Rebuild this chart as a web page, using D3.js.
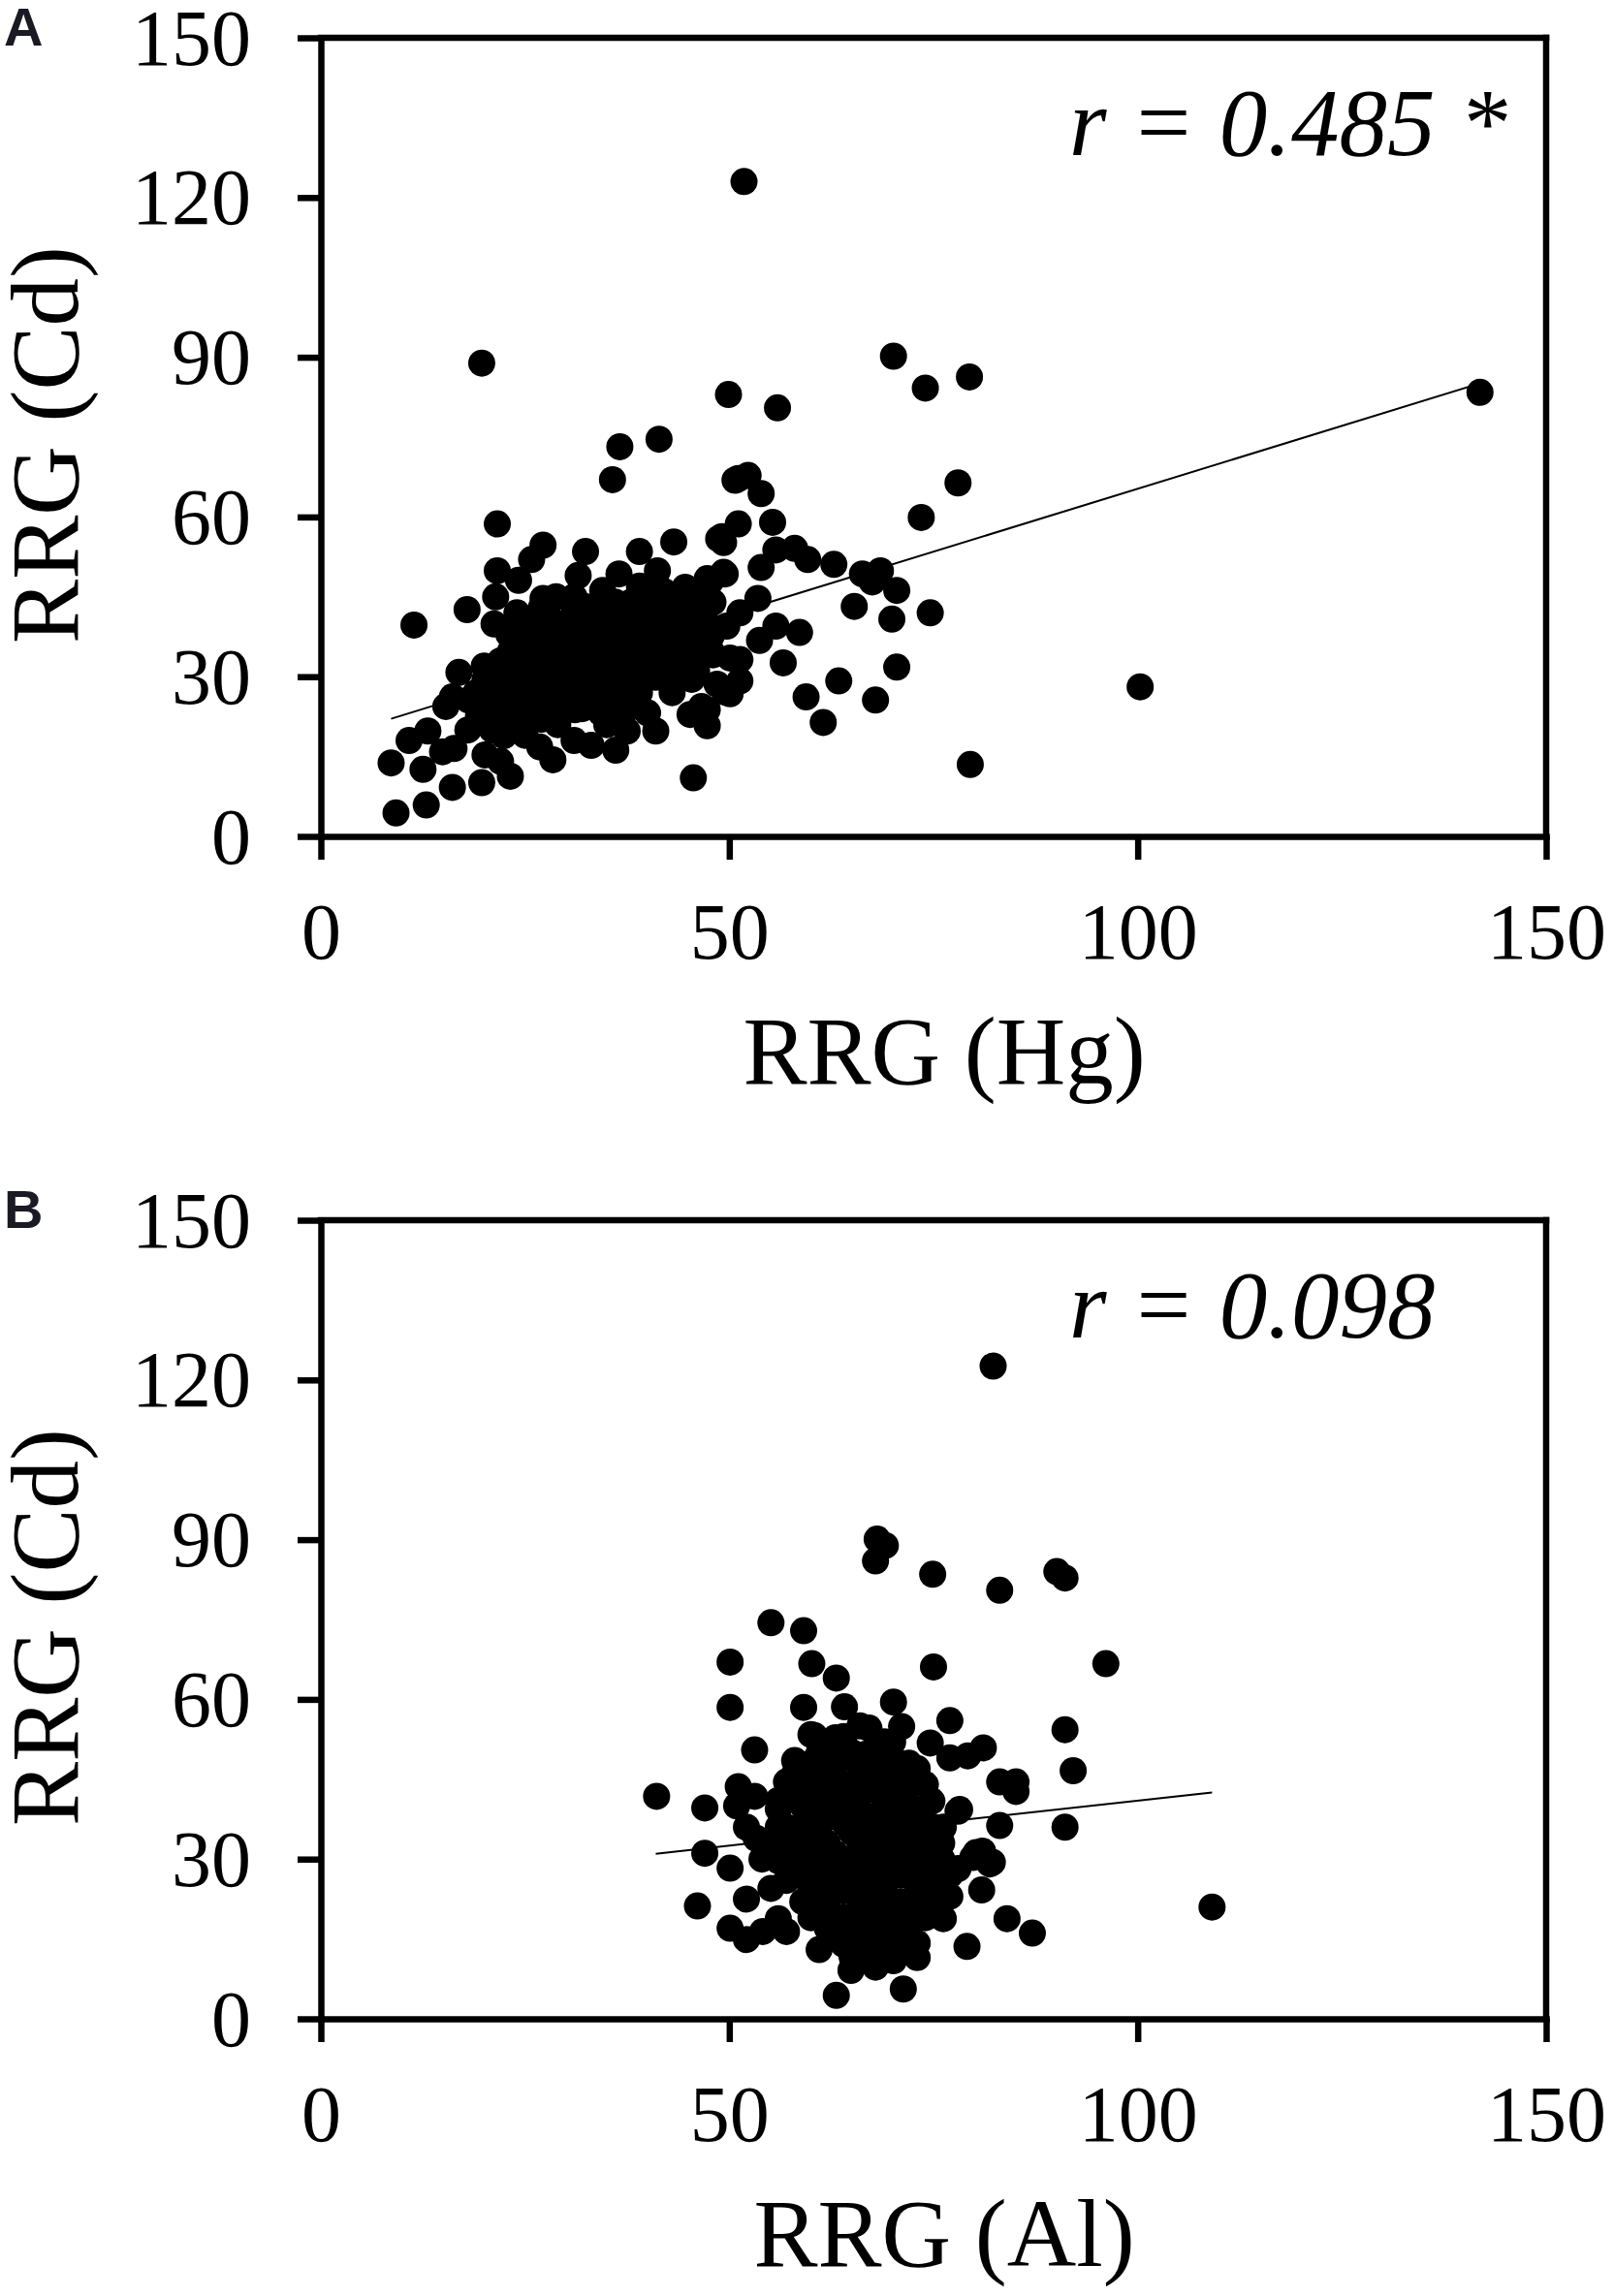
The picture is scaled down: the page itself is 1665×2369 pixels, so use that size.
<!DOCTYPE html>
<html>
<head>
<meta charset="utf-8">
<script src="https://cdn.jsdelivr.net/npm/d3@7"></script>
<style>
  body { margin: 0; background: #fff; }
  svg { display: block; }
</style>
</head>
<body>
<div id="chart"></div>
<script>
// ticks shared by both panels
const xTicks = [0, 50, 100, 150];
const yTicks = [0, 30, 60, 90, 120, 150];

// panel A: RRG (Hg) vs RRG (Cd)
const hgCd = [
  [36.6,73.2],[41.4,74.6],[35.7,67.0],[50.7,66.9],[21.6,58.7],[27.2,54.7],[25.8,52.0],[32.4,53.5],
  [39.0,53.5],[43.2,55.3],[21.6,49.9],[31.5,49.0],[24.2,48.1],[21.4,45.0],[17.9,42.6],[11.4,39.7],
  [27.2,44.7],[28.8,45.0],[21.2,39.9],[34.5,46.2],[36.5,49.3],[41.2,49.9],[44.6,46.5],[47.3,48.4],
  [49.3,49.6],[49.1,56.3],[49.3,55.2],[32.3,43.2],[35.1,41.4],[39.8,43.2],[41.4,40.1],[45.0,40.1],
  [46.6,37.1],[47.8,34.7],[49.7,39.5],[50.1,33.5],[23.2,34.7],[24.0,37.7],[37.3,35.9],[38.2,34.7],
  [41.4,33.5],[41.0,29.9],[16.9,30.8],[20.1,29.5],[16.1,26.2],[15.3,24.4],[13.1,19.8],[10.8,18.0],
  [8.6,13.8],[12.5,12.6],[14.9,15.9],[16.3,16.5],[16.1,9.2],[19.7,10.1],[23.2,11.3],[9.2,4.4],
  [12.9,5.9],[20.1,15.3],[22.0,14.1],[22.4,18.9],[19.3,22.6],[21.2,23.8],[18.1,25.6],[26.8,16.8],
  [28.4,14.4],[33.1,17.1],[36.1,16.2],[37.5,19.8],[41.0,19.8],[40.0,23.2],[45.6,11.0],[45.2,22.9],
  [47.3,20.8],[45.4,29.5],[48.5,28.6],[50.1,26.8],[46.6,24.4],[28.8,23.8],[31.1,23.8],[34.3,23.2],
  [36.3,25.6],[24.0,21.4],
  [70.1,90.2],[74.0,84.2],[79.4,86.3],[49.9,83.0],[55.9,80.5],[78.0,66.4],[73.5,59.9],[51.1,67.2],
  [52.3,67.8],[53.9,64.4],[51.1,58.7],[55.3,59.0],[55.7,53.8],[58.0,54.1],[59.6,52.0],[62.8,51.1],
  [53.9,50.5],[66.3,49.3],[68.5,49.9],[67.5,47.8],[70.5,46.2],[65.3,43.2],[69.9,40.8],[74.6,42.0],
  [70.5,31.8],[67.9,25.6],[63.4,29.2],[59.4,26.2],[61.5,21.4],[56.6,32.6],[58.6,38.3],[55.7,39.5],
  [53.5,44.7],[49.5,49.3],[47.8,48.1],[45.4,43.2],[51.3,42.0],[44.6,39.5],[47.8,37.7],[53.7,36.8],
  [46.6,35.3],[48.0,34.1],[51.3,33.2],[51.3,29.2],[49.5,27.1],[47.3,23.8],[79.5,13.5],[48.7,55.9],
  [44.6,46.8],
  [51.8,123.0],[19.7,88.9],[141.9,83.4],[100.3,28.1],
  [26,30],[28,33],[30,36],[32,31],[34,28],[29,27],[31,40],[33,38],[35,34],[36,30],[27,38],[25,34],
  [24,28],[26,25],[23,31],[30,30],[33,25],[38,28],[37,40],[39,37],[28,41],[34,42],[31,45],[27,43],
  [36,44],[22,26],[20,24],[19,27],[23,22],[25,19],[21,20],[18,20],[42,38],[43,44],[44,42],[42,31],
  [40,35],[43,27],[38,44],[39,47],[32,27],[29,21],[35,21],[31,18],[27,22],[24,25],[22,33],[20,32],
  [41,45],[45,34],[46,31],[44,38],[47,41],[48,44],[46,45],[40,41],[37,37],[30,33],[33,34],[35,39],
  [28,36],[26,40],[24,42],[23,38],
  [25,27],[27,29],[29,31],[31,33],[33,29],[35,31],[37,33],[39,31],[27,33],[29,35],[31,37],[33,36],
  [35,36],[37,42],[25,37],[27,35],[29,39],[31,42],[33,40],[35,44],[26,32],[28,28],[30,26],[32,24],
  [34,26],[36,27],[38,25],[39,40],[41,42],[43,36],[42,34],[40,38],[44,33],[30,39],[32,36],[34,33],
  [36,34],[28,31],[26,35],[24,31],[22,29],[21,27],[23,27],[25,23],[27,25],[29,24],[31,28],[33,31],
  [36,39],[38,41],[40,44],[42,46],[44,44],[46,42],[45,37],[43,31],[39,27],[37,23]
];

// panel B: RRG (Al) vs RRG (Cd)
const alCd = [
  [68.1,90.1],[69.1,88.9],[67.9,86.0],[74.9,83.5],[83.1,80.5],[55.1,74.4],[59.1,72.9],[50.1,67.0],
  [60.1,66.7],[63.1,64.0],[75.0,66.1],[50.1,58.5],[59.1,58.5],[64.1,58.6],[70.1,59.5],[71.1,54.9],
  [67.1,54.6],[77.0,56.0],[74.6,51.8],[77.0,49.0],[79.2,49.4],[81.1,50.9],[53.1,50.5],[60.0,53.4],
  [63.0,52.8],[58.0,48.5],[66.7,49.7],[69.1,48.5],[57.0,44.5],[51.1,43.6],[53.1,41.8],[41.1,41.8],
  [47.0,39.6],[50.9,40.0],[56.0,39.4],[72.3,44.2],[74.8,40.9],[78.0,39.0],[83.1,44.5],[83.1,36.3],
  [52.1,36.0],[53.3,33.9],[47.0,31.1],[50.1,28.3],[56.0,29.7],[55.1,24.5],[46.1,21.2],[52.1,22.5],
  [50.1,17.0],[52.1,14.9],[54.1,16.4],[56.0,18.8],[57.0,16.4],[61.0,13.0],[65.1,11.2],[64.9,9.1],
  [67.9,9.7],[70.1,10.9],[73.0,11.5],[73.0,14.2],[63.1,4.4],[71.3,5.6],[79.1,13.6],[76.2,18.8],
  [80.9,24.2],[84.0,18.8],[82.2,29.4],[80.2,31.2],[78.0,28.2],[76.2,23.9],[62.4,17.5],[61.2,20.6],
  [60.0,24.2],[58.0,28.5],[60.4,53.2],[75.2,31.9],[76.2,36.0],[73.6,37.8],[71.4,41.8],[68.9,47.8],
  [90.1,84.0],[91.1,82.8],[96.1,66.7],[91.1,54.3],[92.1,46.6],[91.1,36.0],[85.1,44.5],[85.1,42.7],
  [78.2,39.3],[81.0,31.5],[81.9,29.1],[79.8,30.3],[87.1,16.1],[109.1,21.0],[77.0,23.0],
  [82.3,122.6],
  [58,42],[60,45],[62,47],[64,44],[66,46],[68,43],[70,45],[72,40],[60,38],[62,40],[64,37],[66,39],
  [68,36],[70,38],[72,35],[74,33],[58,34],[60,31],[62,33],[64,30],[66,32],[68,29],[70,31],[72,28],
  [74,26],[57,26],[59,22],[61,27],[63,24],[65,26],[67,23],[69,25],[71,22],[73,20],[75,22],[62,17],
  [64,19],[66,16],[68,18],[70,15],[72,17],[66,13],[68,12],[64,14],[60,19],[69,20],[71,27],[67,34],
  [63,42],[65,50],[61,50],[69,52],[59,36],[55,33],[56,36],[54,30],[77,27],[76,30],[74,44],[73,47],
  [65,41],[67,27],[63,28],[59,29],[57,31],[69,40],[71,33],[73,30],[75,36],[70,49],[66,55],[64,49],
  [59,40],[61,42],[63,45],[65,43],[67,45],[69,42],[71,44],[61,36],[63,38],[65,35],[67,37],[69,34],
  [71,36],[73,34],[59,32],[61,34],[63,31],[65,29],[67,31],[69,27],[71,29],[73,25],[58,27],[60,25],
  [62,22],[64,24],[66,21],[68,23],[70,20],[72,22],[74,19],[63,16],[65,18],[67,15],[69,17],[71,13],
  [65,12],[67,19],[69,30],[61,29],[57,36],[56,41],[58,46],[62,51],[66,48],[68,51],[72,48],[70,52],
  [64,53],[60,48],[74,30],[75,27],[76,33],[62,26],[66,28],[70,33],[64,40],[68,38],[72,38],[66,42]
];

// fitted lines, end points
const fitA = [[8.6,22.1],[141.9,85.1]];
const fitB = [[41.0,31.0],[109.1,42.5]];

const panels = [
  {tag: "A", top: 39,   data: hgCd, fit: fitA, xTitle: "RRG (Hg)", note: "r = 0.485 *"},
  {tag: "B", top: 1259, data: alCd, fit: fitB, xTitle: "RRG (Al)", note: "r = 0.098"}
];

const serif = "'Liberation Serif','Times New Roman',Times,serif";
const left = 331, right = 1595, plotH = 824;
const axisW = 6.5;

let svg = d3.select("#chart").append("svg")
    .attr("width", 1665)
    .attr("height", 2369);

panels.forEach(function(p) {
    let x = d3.scaleLinear().domain([0, 150]).range([left, right]);
    let y = d3.scaleLinear().domain([0, 150]).range([p.top + plotH, p.top]);
    let g = svg.append("g");

    // frame top + right
    g.append("line")
        .attr("x1", x(0)).attr("x2", x(150))
        .attr("y1", y(150)).attr("y2", y(150))
        .attr("stroke", "#000").attr("stroke-width", axisW).attr("stroke-linecap", "square");
    g.append("line")
        .attr("x1", x(150)).attr("x2", x(150))
        .attr("y1", y(150)).attr("y2", y(0))
        .attr("stroke", "#000").attr("stroke-width", axisW).attr("stroke-linecap", "square");

    // x axis
    let gx = g.append("g")
        .attr("transform", "translate(0," + y(0) + ")")
        .call(d3.axisBottom(x).tickValues(xTicks).tickSize(24).tickSizeOuter(0));
    // y axis
    let gy = g.append("g")
        .attr("transform", "translate(" + x(0) + ",0)")
        .call(d3.axisLeft(y).tickValues(yTicks).tickSize(24).tickSizeOuter(0));

    [gx, gy].forEach(function(a) {
        a.select(".domain").attr("stroke-width", axisW).attr("stroke-linecap", "square");
        a.selectAll(".tick line").attr("stroke-width", axisW);
        a.selectAll(".tick text")
            .attr("font-family", serif)
            .attr("font-size", 82)
            .attr("fill", "#000");
    });
    gx.selectAll(".tick text").attr("y", 126).attr("dy", 0);
    gy.selectAll(".tick text").attr("x", -72).attr("dy", 27);

    // points
    g.selectAll(".dot")
        .data(p.data)
        .enter().append("circle")
        .attr("class", "dot")
        .attr("cx", function(d) { return x(d[0]); })
        .attr("cy", function(d) { return y(d[1]); })
        .attr("r", 14)
        .attr("fill", "#000");

    // trend line
    g.append("path")
        .datum(p.fit)
        .attr("fill", "none")
        .attr("stroke", "#000")
        .attr("stroke-width", 2)
        .attr("d", d3.line().x(function(d) { return x(d[0]); }).y(function(d) { return y(d[1]); }));

    // correlation note
    g.append("text")
        .attr("x", 1103)
        .attr("y", p.top + 121)
        .attr("font-family", serif)
        .attr("font-style", "italic")
        .attr("font-size", 99)
        .text(p.note);

    // axis titles
    g.append("text")
        .attr("x", 974)
        .attr("y", p.top + plotH + 255)
        .attr("text-anchor", "middle")
        .attr("font-family", serif)
        .attr("font-size", 99)
        .text(p.xTitle);
    g.append("text")
        .attr("transform", "translate(80," + (p.top + 420) + ") rotate(-90)")
        .attr("text-anchor", "middle")
        .attr("font-family", serif)
        .attr("font-size", 99)
        .text("RRG (Cd)");

    // panel letter
    g.append("text")
        .attr("x", 4)
        .attr("y", p.top + 8)
        .attr("font-family", "'Liberation Sans',Arial,sans-serif")
        .attr("font-weight", "bold")
        .attr("font-size", 56)
        .attr("fill", "#1a1a24")
        .text(p.tag);
});
</script>
</body>
</html>
